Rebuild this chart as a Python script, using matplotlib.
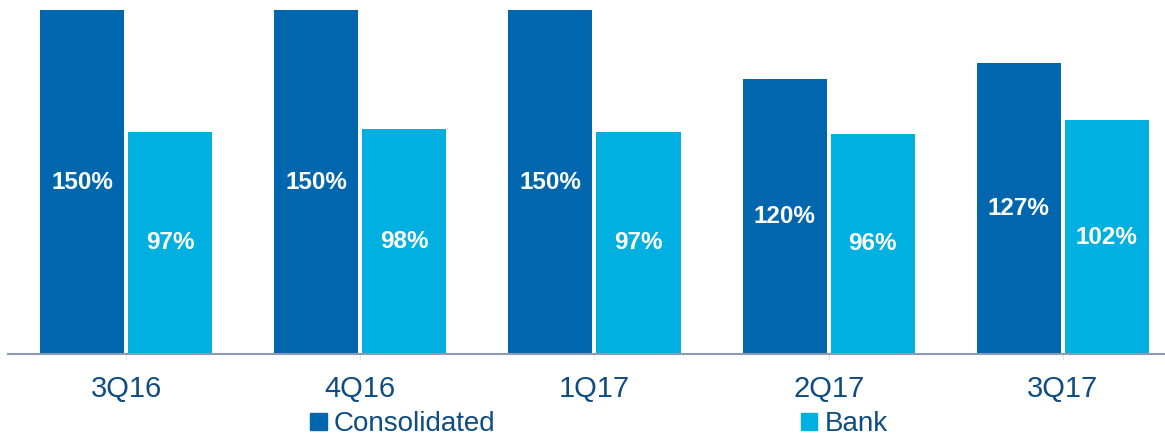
import numpy as np
import matplotlib.pyplot as plt
from matplotlib.patches import Patch

quarters = ["3Q16", "4Q16", "1Q17", "2Q17", "3Q17"]
consolidated = [150, 150, 150, 120, 127]
bank = [97, 98, 97, 96, 102]

DARK = "#0066AE"
LIGHT = "#00B0E0"
TEXT = "#0F4C81"

plt.rcParams["font.family"] = ["Liberation Sans", "DejaVu Sans"]

fig = plt.figure(figsize=(11.65, 4.38), dpi=100)
ax = fig.add_axes([8 / 1165, 84 / 438, 1 - 8 / 1165, 354 / 438])

x = np.arange(len(quarters))
w = 0.359
off = 0.188
b1 = ax.bar(x - off, consolidated, w, color=DARK)
b2 = ax.bar(x + off, bank, w, color=LIGHT)

for bars, vals in [(b1, consolidated), (b2, bank)]:
    for bar, v in zip(bars, vals):
        ax.text(bar.get_x() + bar.get_width() / 2, v / 2, f"{v}%",
                ha="center", va="center", color="white",
                fontsize=17.5, fontweight="bold")

ax.set_xlim(-0.504, 4.436)
ax.set_ylim(0, 154.4)
ax.set_yticks([])
ax.set_xticks(x)
ax.set_xticklabels(quarters, fontsize=21, color=TEXT)
ax.tick_params(axis="x", length=4, color="#DDE4EE", pad=11)
for s in ["top", "right", "left"]:
    ax.spines[s].set_visible(False)
ax.spines["bottom"].set_color("#8C9BB5")
ax.spines["bottom"].set_linewidth(1.5)

handles = [Patch(color=DARK, label="Consolidated"), Patch(color=LIGHT, label="Bank")]
leg = fig.legend(handles=handles, loc="center", bbox_to_anchor=(0.514, 0.031),
                 ncol=2, frameon=False, fontsize=20, handlelength=0.6,
                 handleheight=0.6, handletextpad=0.25, columnspacing=11,
                 borderaxespad=0, borderpad=0)
for t in leg.get_texts():
    t.set_color(TEXT)

fig.savefig("out.png", dpi=100)
